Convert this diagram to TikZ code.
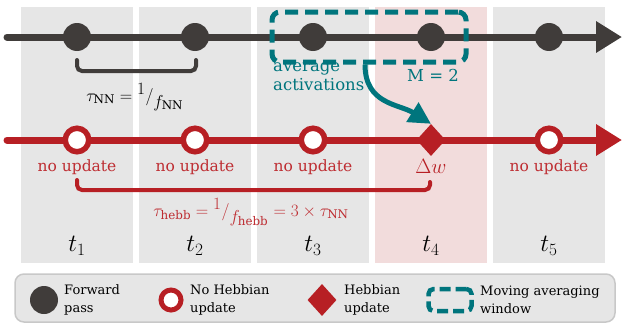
\documentclass[tikz,border=0pt]{standalone}
\usepackage{fontspec}
\setmainfont{DejaVu Serif}
\usetikzlibrary{arrows.meta,shapes.geometric,calc}
\definecolor{dk}{RGB}{64,60,58}
\definecolor{hred}{RGB}{183,31,36}
\definecolor{tred}{RGB}{190,45,50}
\definecolor{hteal}{RGB}{0,117,125}
\definecolor{colgray}{RGB}{230,230,230}
\definecolor{colpink}{RGB}{242,220,220}
\definecolor{legborder}{RGB}{200,200,200}
\newcommand{\myslash}[2]{{}^{\textstyle #1}/_{\textstyle #2}}
\tikzset{
  colbox/.style={fill=#1, draw=none, minimum width=112pt, minimum height=256pt, inner sep=0pt},
  fwd/.style={circle, fill=dk, draw=none, minimum size=28pt, inner sep=0pt},
  nohebb/.style={circle, fill=white, draw=hred, line width=5.5pt, minimum size=23.5pt, inner sep=0pt},
  hebb/.style={diamond, fill=hred, draw=none, minimum width=29pt, minimum height=32pt, inner sep=0pt},
  timeline/.style={line width=7pt, line cap=round, -{Triangle[length=26pt,width=30pt]}},
  bracketline/.style={line width=4pt, rounded corners=5pt, line cap=round},
  window/.style={draw=hteal, line width=5pt, rounded corners=8pt, dash pattern=on 13pt off 7pt, inner sep=0pt},
  redtext/.style={text=tred, font=\fontsize{15.5}{18}\selectfont, inner sep=0pt},
  tealtext/.style={text=hteal, font=\fontsize{16.5}{18.5}\selectfont, inner sep=0pt},
  mathlabel/.style={inner sep=0pt, font=\fontsize{17}{19}\selectfont},
  tlabel/.style={font=\fontsize{26}{28}\selectfont, inner sep=0pt},
  legtext/.style={font=\fontsize{13}{18}\selectfont, align=left, anchor=west, inner sep=0pt},
}
\begin{document}
\begin{tikzpicture}[x=1pt,y=-1pt]
\useasboundingbox (0,0) rectangle (623,324);
% columns
\node[colbox=colgray] (col1) at (77,135) {};
\node[colbox=colgray] (col2) at (195,135) {};
\node[colbox=colgray] (col3) at (313,135) {};
\node[colbox=colpink] (col4) at (431,135) {};
\node[colbox=colgray] (col5) at (549,135) {};
% forward timeline
\coordinate (fs) at (7,37);
\coordinate (fe) at (622,37);
\draw[dk, timeline] (fs) -- (fe);
\node[fwd] (f1) at (77,37) {};
\node[fwd] (f2) at (195,37) {};
\node[fwd] (f3) at (313,37) {};
\node[fwd] (f4) at (431,37) {};
\node[fwd] (f5) at (549,37) {};
% NN bracket
\coordinate (bb1) at (77,60);
\coordinate (bb2) at (196,60);
\draw[dk, bracketline] (bb1) -- ++(0,11) -| (bb2);
\node[mathlabel] (taunn) at (135,97) {$\tau_{\mathrm{NN}} = \myslash{1}{f_{\mathrm{NN}}}$};
% moving window
\node[window, minimum width=194pt, minimum height=50pt] (win) at (369,37) {};
\node[tealtext, anchor=north west, align=left] (avg) at (273,63) {average\\activations};
\node[tealtext] (m2) at (433,75) {M = 2};
% hebbian timeline
\coordinate (hs) at (7,140);
\coordinate (he) at (622,140);
\draw[hred, timeline] (hs) -- (he);
\node[nohebb] (h1) at (77,140) {};
\node[nohebb] (h2) at (195,140) {};
\node[nohebb] (h3) at (313,140) {};
\node[hebb] (h4) at (431,140) {};
\node[nohebb] (h5) at (549,140) {};
% averaging arrow
\draw[hteal, line width=5pt, -{Triangle[length=22pt,width=22pt]}] ([xshift=-4pt]win.south) .. controls +(0,40) and +(-32,-20) .. (h4.north);
% labels
\node[redtext] (n1) at (77,167) {no update};
\node[redtext] (n2) at (195,167) {no update};
\node[redtext] (n3) at (313,167) {no update};
\node[text=hred, inner sep=0pt, font=\fontsize{22}{24}\selectfont] (dw) at (431,166) {$\Delta w$};
\node[redtext] (n5) at (549,167) {no update};
% hebb bracket
\coordinate (rb1) at (77,180);
\coordinate (rb2) at (430,182);
\draw[hred, bracketline] (rb1) -- ++(0,10) -| (rb2);
\node[mathlabel, text=tred] (tauh) at (251,212) {$\tau_{\mathrm{hebb}} = \myslash{1}{f_{\mathrm{hebb}}} = 3\times\tau_{\mathrm{NN}}$};
% time labels
\node[tlabel] (t1) at (77,246) {$t_1$};
\node[tlabel] (t2) at (195,246) {$t_2$};
\node[tlabel] (t3) at (313,246) {$t_3$};
\node[tlabel] (t4) at (431,246) {$t_4$};
\node[tlabel] (t5) at (549,246) {$t_5$};
% legend
\node[fill=colgray, draw=legborder, line width=1.5pt, rounded corners=9pt, minimum width=600pt, minimum height=48pt] (legend) at (315,298) {};
\node[fwd] (lf) at (44,300) {};
\node[legtext] (lft) at (64,300) {Forward\\pass};
\node[nohebb, minimum size=20pt, line width=5pt] (lh) at (171,300) {};
\node[legtext] (lht) at (190,300) {No Hebbian\\update};
\node[hebb] (ld) at (322,300) {};
\node[legtext] (ldt) at (344,300) {Hebbian\\update};
\node[window, minimum width=43pt, minimum height=22pt, line width=4.5pt, rounded corners=5pt, dash pattern=on 11pt off 5pt] (lw) at (450,300) {};
\node[legtext] (lwt) at (480,300) {Moving averaging\\window};
\end{tikzpicture}
\end{document}
